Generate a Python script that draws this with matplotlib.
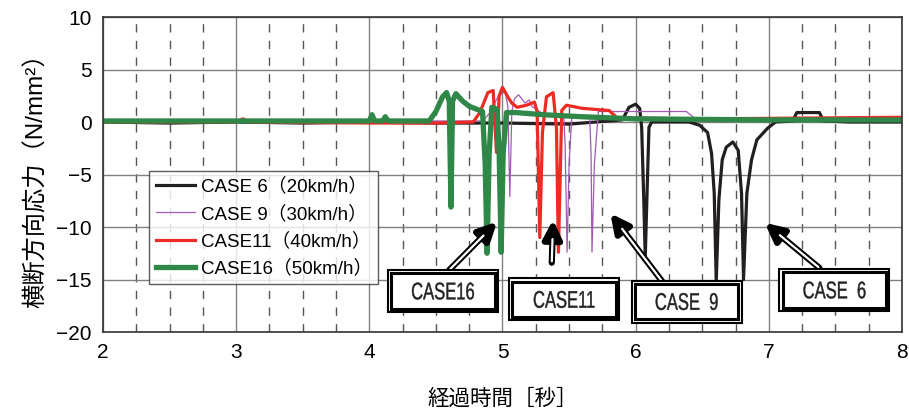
import matplotlib
matplotlib.use("Agg")
import matplotlib.pyplot as plt
import matplotlib.transforms as mtransforms
from matplotlib.patches import Rectangle, PathPatch
from matplotlib.textpath import TextPath
from matplotlib.font_manager import FontProperties

plt.rcParams['font.family'] = ['Liberation Sans', 'Noto Sans CJK JP', 'DejaVu Sans']

# CASE 6 (20km/h)
t6 = [2.0, 2.5, 3.0, 3.5, 4.0, 4.02, 4.04, 4.5, 5.0, 5.5,
      5.9, 5.95, 6.0, 6.03, 6.045, 6.06, 6.072, 6.085, 6.1, 6.12,
      6.2, 6.4, 6.48, 6.54, 6.57, 6.59, 6.605, 6.625, 6.65, 6.68,
      6.73, 6.77, 6.795, 6.81, 6.835, 6.87, 6.91, 6.99, 7.05, 7.18,
      7.21, 7.38, 7.41, 7.6, 8.0]
v6 = [0.0, -0.1, 0.0, -0.1, 0.0, 0.5, 0.0, -0.1, -0.1, -0.2,
      0.2, 1.4, 1.7, 1.3, -0.5, -7.0, -12.9, -7.0, -0.5, 0.0,
      0.0, 0.0, -0.3, -1.0, -3.0, -6.8, -15.2, -7.4, -3.6, -2.4,
      -1.9, -2.7, -6.8, -15.0, -6.8, -3.6, -1.7, -0.6, 0.0, 0.1,
      0.9, 0.9, 0.1, 0.0, 0.0]

# CASE 9 (30km/h)
t9 = [2.0, 3.0, 4.0, 4.5, 4.85, 4.9, 4.97, 5.02, 5.04, 5.055,
      5.07, 5.09, 5.12, 5.17, 5.2, 5.22, 5.3, 5.4, 5.46, 5.47,
      5.485, 5.5, 5.52, 5.6, 5.655, 5.665, 5.672, 5.69, 5.72, 6.0,
      6.38, 6.45, 7.0, 8.0]
v9 = [0.1, 0.1, 0.1, 0.1, 0.1, 0.8, 2.5, 2.9, 1.5, -7.1,
      1.0, 2.2, 2.6, 1.8, 2.1, 1.5, 0.8, 0.5, 0.5, -2.0,
      -12.4, -4.0, 0.4, 0.5, 0.5, -3.0, -12.4, -4.0, 1.0, 1.0,
      1.0, 0.3, 0.2, 0.2]

# CASE11 (40km/h)
t11 = [2.0, 3.0, 3.05, 3.1, 4.0, 4.5, 4.78, 4.83, 4.89, 4.93,
       4.955, 4.975, 5.0, 5.04, 5.07, 5.11, 5.18, 5.24, 5.26, 5.28,
       5.3, 5.33, 5.38, 5.405, 5.42, 5.445, 5.48, 5.6, 5.8, 5.86,
       6.5, 7.5, 8.0]
v11 = [0.0, 0.0, 0.3, 0.0, -0.1, -0.1, 0.0, 0.9, 2.8, 3.0,
       -2.9, 2.5, 3.3, 2.4, 1.8, 1.4, 1.6, 1.9, 1.0, -11.0,
       -1.0, 2.4, 2.8, -0.5, -12.4, 1.1, 1.6, 1.3, 1.1, 0.4,
       0.3, 0.4, 0.45]

# CASE16 (50km/h)
t16 = [2.0, 3.0, 4.0, 4.02, 4.04, 4.1, 4.12, 4.14, 4.45, 4.5,
       4.55, 4.58, 4.6, 4.613, 4.625, 4.65, 4.7, 4.75, 4.81, 4.85,
       4.87, 4.884, 4.9, 4.92, 4.96, 4.975, 4.99, 5.005, 5.03, 5.1,
       5.3, 5.6, 6.0, 7.0, 8.0]
v16 = [0.1, 0.1, 0.1, 0.7, 0.1, 0.1, 0.5, 0.1, 0.1, 1.0,
       2.4, 2.8, 2.0, -8.1, 2.0, 2.7, 2.0, 1.5, 1.2, 1.0,
       -4.0, -12.5, -3.0, 1.4, 1.2, -3.0, -12.4, -3.0, 0.9, 0.9,
       0.7, 0.5, 0.3, 0.2, 0.2]

labels = ['CASE 6（20km/h）', 'CASE 9（30km/h）', 'CASE11（40km/h）', 'CASE16（50km/h）']
colors = ['#231f20', '#a259b5', '#ee2a24', '#2f8748']
widths = [2.3, 0.9, 2.3, 3.8]

# callout boxes: label, box lower-left, arrow tail, arrow tip
box_labels = ['CASE16', 'CASE11', 'CASE  9', 'CASE  6']
box_xy = [(4.14, -18.1), (5.05, -18.9), (5.97, -19.1), (7.08, -18.0)]
arrow_tail = [(4.60, -14.1), (5.37, -13.4), (6.20, -15.2), (7.38, -13.9)]
arrow_tip = [(4.96, -9.5), (5.38, -9.3), (5.81, -8.7), (6.97, -9.6)]

fig = plt.figure(figsize=(9.09, 4.16), dpi=100)
ax = fig.add_axes([0.1133, 0.2019, 0.8790, 0.7572])

series = [(t6, v6), (t9, v9), (t11, v11), (t16, v16)]
for (t, v), lab, c, w in zip(series, labels, colors, widths):
    ax.plot(t, v, color=c, lw=w, label=lab, solid_joinstyle='round')

ax.set_xlim(2, 8)
ax.set_ylim(-20, 10)
ax.set_xticks(range(2, 9))
ax.set_yticks(range(-20, 11, 5))
ax.set_xticks([2 + 0.25 * i for i in range(25) if i % 4 != 0], minor=True)
ax.grid(which='major', color='#808080', lw=1.0)
ax.grid(which='minor', axis='x', color='#555555', lw=1.0, ls=(0, (6, 6)))
ax.set_axisbelow(True)
ax.tick_params(which='both', length=0, labelsize=15, pad=8)
for s in ax.spines.values():
    s.set_color('#333333')
    s.set_linewidth(1.2)

ax.set_xlabel('経過時間［秒］', fontsize=15.5, labelpad=19)
ax.set_ylabel('横断方向応力（N/mm²）', fontsize=17.5, labelpad=6)

leg = ax.legend(loc='upper left', bbox_to_anchor=(0.046, 0.54), fontsize=13.5,
                frameon=True, fancybox=False, edgecolor='#333333',
                handlelength=2.1, labelspacing=0.5, borderpad=0.35, handletextpad=0.3)
leg.get_frame().set_linewidth(1.0)

bw, bh = 0.826, 4.0
fp = FontProperties(family='Liberation Sans')
for lab, (bx, by), tail, tip in zip(box_labels, box_xy, arrow_tail, arrow_tip):
    ax.annotate('', xy=tip, xytext=tail,
                arrowprops=dict(arrowstyle='-|>,head_length=1.1,head_width=0.55',
                                lw=4.5, color='black', shrinkA=0, shrinkB=0), zorder=5)
    ax.annotate('', xy=tip, xytext=tail,
                arrowprops=dict(arrowstyle='-', lw=1.6, color='white',
                                shrinkA=1, shrinkB=14), zorder=6)
    ax.add_patch(Rectangle((bx, by), bw, bh, fc='white', ec='black', lw=1.5, zorder=7, clip_on=False))
    ax.add_patch(Rectangle((bx + 0.025, by + 0.3), bw - 0.05, bh - 0.6, fc='white', ec='black',
                           lw=2.2, zorder=8, clip_on=False))
    # narrow lettering, like the condensed gothic in the original
    tp = TextPath((0, 0), lab, size=24, prop=fp)
    bb = tp.get_extents()
    tr = (mtransforms.Affine2D().translate(-(bb.x0 + bb.x1) / 2, -(bb.y0 + bb.y1) / 2).scale(0.69, 1.0)
          + mtransforms.ScaledTranslation(bx + bw / 2, by + bh / 2, ax.transData))
    ax.add_patch(PathPatch(tp, transform=tr, fc='#222222', ec='#222222', lw=0.3, zorder=9, clip_on=False))

fig.savefig('out.png', dpi=100)
